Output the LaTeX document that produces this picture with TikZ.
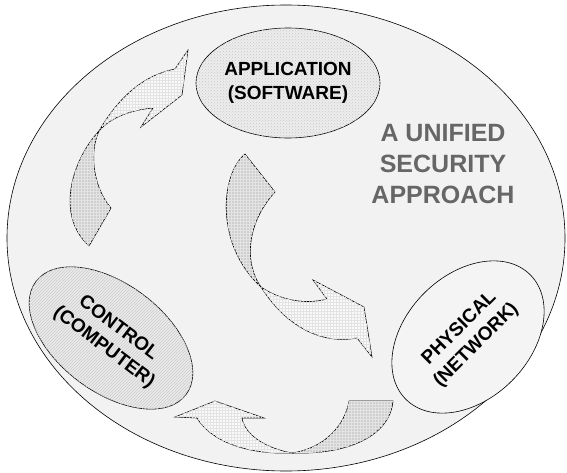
\documentclass[tikz,border=0pt]{standalone}
\usepackage{fontspec}
\setmainfont{Liberation Sans}
\usetikzlibrary{shapes.geometric, patterns}

\begin{document}
\begin{tikzpicture}[x=1pt, y=-1pt,
    blob/.style={ellipse, draw, line width=0.6pt, inner sep=0pt, align=center,
        font=\bfseries\fontsize{19}{24}\selectfont},
    backface/.style={draw, line width=0.6pt, fill=gray!38,
        postaction={pattern=grid, pattern color=gray!22}},
    frontface/.style={draw, line width=0.6pt, fill=gray!5,
        postaction={pattern=grid, pattern color=gray!22}}]
    \useasboundingbox (0,0) rectangle (567,473);

    % outer ring
    \node[ellipse, draw, line width=0.6pt, fill=gray!10, minimum width=558pt, minimum height=466pt] (frame) at (286,238) {};
    \node[align=center, text=black!60, font=\bfseries\fontsize{25}{31}\selectfont] (title) at (443,164) {A UNIFIED\\SECURITY\\APPROACH};

    % the three parts
    \node[blob, fill=gray!14, postaction={pattern=crosshatch dots, pattern color=gray!45},
        minimum width=184pt, minimum height=110pt] (app) at (288,83) {APPLICATION\\(SOFTWARE)};
    \node[blob, fill=gray!16, postaction={pattern=north east lines, pattern color=gray!40},
        minimum width=188pt, minimum height=108pt, rotate=-37] (ctrl) at (111,338) {CONTROL\\(COMPUTER)};
    \node[blob, fill=gray!9, minimum width=176pt, minimum height=124pt, rotate=45] (phys) at (468,337) {PHYSICAL\\(NETWORK)};

    % control -> application
    \path[backface] (89,246) -- (111,208) .. controls (95,190) and (88,155) .. (99,131)
        .. controls (72,160) and (55,215) .. cycle;
    \path[frontface] (99,131) .. controls (120,95) and (145,75) .. (175,69) -- (188,50) -- (182,95)
        -- (141,127) -- (153,108) .. controls (130,110) and (110,118) .. cycle;

    % application -> physical
    \path[backface] (245,154) -- (275,192) .. controls (245,225) and (245,265) .. (261,287)
        .. controls (215,245) and (220,175) .. cycle;
    \path[frontface] (261,287) .. controls (280,300) and (305,305) .. (327,299) -- (313,280) -- (364,307)
        -- (372,357) -- (357,338) .. controls (320,345) and (285,325) .. cycle;

    % physical -> control
    \path[backface] (349,401) -- (393,401) .. controls (390,435) and (350,455) .. (292,453)
        .. controls (325,448) and (345,425) .. cycle;
    \path[frontface] (292,453) .. controls (265,448) and (245,435) .. (242,418) -- (264,418) -- (215,401)
        -- (175,417) -- (197,418) .. controls (210,440) and (245,455) .. cycle;
\end{tikzpicture}
\end{document}
